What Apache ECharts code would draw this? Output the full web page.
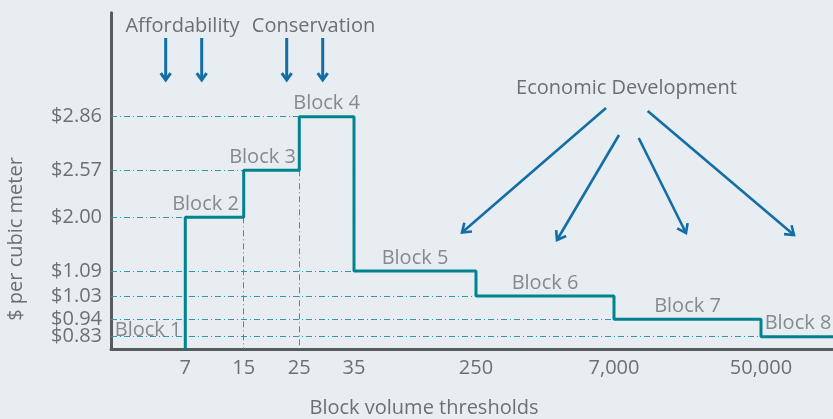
<!DOCTYPE html>
<html>
<head>
<meta charset="utf-8">
<script src="https://cdn.jsdelivr.net/npm/echarts@6/dist/echarts.min.js"></script>
<style>
  html, body { margin: 0; padding: 0; background: #e8edf1; }
  #chart { width: 833px; height: 419px; }
</style>
</head>
<body>
<div id="chart"></div>
<script>
// ---------- DATA ----------
const thresholds = [7, 15, 25, 35, 250, 7000, 50000];
const thresholdLabels = ['7', '15', '25', '35', '250', '7,000', '50,000'];
const blockNames = ['Block 1', 'Block 2', 'Block 3', 'Block 4', 'Block 5', 'Block 6', 'Block 7', 'Block 8'];
const blockPrices = [0, 2.00, 2.57, 2.86, 1.09, 1.03, 0.94, 0.83];
const priceTicks = [0.83, 0.94, 1.03, 1.09, 2.00, 2.57, 2.86];
const priceTickLabels = ['$0.83', '$0.94', '$1.03', '$1.09', '$2.00', '$2.57', '$2.86'];

// ---------- SCHEMATIC AXIS LAYOUT (the original chart is not to scale) ----------
const xSlot = [74.3, 132.7, 188.3, 243, 365, 503, 650]; // schematic position of each threshold
const xSlotMax = 722;
const ySlot = [12.3, 29.7, 53, 78, 131.7, 178.7, 232.3]; // schematic position of each price tick
const ySlotMax = 336.3;

const TEXT = '#6c7075';
const FONT = 'Open Sans';
const FS = 20;
const TEAL = '#00838e';
const DASH = '#2f98a4';
const BLUE = '#146ea6';
const AXIS = '#565b60';

function xPos(t) { return xSlot[thresholds.indexOf(t)]; }
function yPos(p) { return p === 0 ? 0 : ySlot[priceTicks.indexOf(p)]; }

// block i (i>=1) starts at thresholds[i-1]; block 0 starts at 0
function blockStart(i) { return i === 0 ? 0 : xPos(thresholds[i - 1]); }
function blockEnd(i) { return i < thresholds.length ? xPos(thresholds[i]) : xSlotMax; }

// step line: points at block starts, drawn with step:'end'
const stepData = [[xPos(thresholds[0]), yPos(blockPrices[0])]];
for (let i = 1; i < blockPrices.length; i++) stepData.push([blockStart(i), yPos(blockPrices[i])]);
stepData.push([xSlotMax, yPos(blockPrices[blockPrices.length - 1])]);

// dashed guides
const guides = [];
for (let i = 1; i < blockPrices.length; i++) {
  guides.push([{ coord: [0, yPos(blockPrices[i])] }, { coord: [blockStart(i), yPos(blockPrices[i])] }]);
  if (blockPrices[i] > blockPrices[i - 1] && blockPrices[i - 1] > 0) {
    guides.push([{ coord: [blockStart(i), yPos(blockPrices[i - 1])] }, { coord: [blockStart(i), 0] }]);
  }
}

// block labels above each block's segment
const labelShift = [0, -9, -9, 0, 0, 0, 0, 1];
const labelData = blockNames.map((n, i) => ({
  name: n,
  value: [(blockStart(i) + blockEnd(i)) / 2, yPos(blockPrices[i])],
  label: { distance: i === 0 ? 9 : 3, offset: [labelShift[i], 0] }
}));

function arrow(x1, y1, x2, y2, w, head) {
  const a = Math.atan2(y2 - y1, x2 - x1);
  const s = 0.62;
  return {
    type: 'group',
    children: [
      { type: 'line', shape: { x1, y1, x2, y2 }, style: { stroke: BLUE, lineWidth: w } },
      { type: 'polyline', shape: { points: [
        [x2 - head * Math.cos(a - s), y2 - head * Math.sin(a - s)],
        [x2, y2],
        [x2 - head * Math.cos(a + s), y2 - head * Math.sin(a + s)]
      ] }, style: { stroke: BLUE, lineWidth: w, fill: null, lineJoin: 'miter' } }
    ]
  };
}
function text(t, x, y, extra) {
  return Object.assign({
    type: 'text', x, y,
    style: { text: t, font: FS + 'px "' + FONT + '"', fill: TEXT, textAlign: 'center', textVerticalAlign: 'middle' }
  }, extra || {});
}

const chart = echarts.init(document.getElementById('chart'));
chart.setOption({
  backgroundColor: '#e8edf1',
  animation: false,
  grid: { left: 111, right: 0, top: 12.7, bottom: 70 },
  xAxis: {
    type: 'value', min: 0, max: xSlotMax,
    splitLine: { show: false },
    axisTick: { show: false },
    axisLine: { show: true, lineStyle: { color: AXIS, width: 3 } },
    axisLabel: {
      customValues: xSlot,
      hideOverlap: false,
      margin: 9,
      color: TEXT, fontFamily: FONT, fontSize: FS,
      formatter: v => thresholdLabels[xSlot.indexOf(v)] || ''
    }
  },
  yAxis: {
    type: 'value', min: 0, max: ySlotMax,
    splitLine: { show: false },
    axisTick: { show: false },
    axisLine: { show: true, lineStyle: { color: AXIS, width: 3 } },
    axisLabel: {
      customValues: [0].concat(ySlot),
      hideOverlap: false,
      margin: 9,
      color: TEXT, fontFamily: FONT, fontSize: FS,
      lineHeight: 16,
      formatter: v => (v === 0 ? ' ' : (priceTickLabels[ySlot.indexOf(v)] || ''))
    }
  },
  series: [
    {
      type: 'line', step: 'end', data: stepData, symbol: 'none', z: 5,
      lineStyle: { color: TEAL, width: 3 },
      markLine: {
        silent: true, symbol: ['none', 'none'], label: { show: false },
        lineStyle: { color: DASH, width: 1, type: [6, 3, 1, 3] },
        data: guides
      }
    },
    {
      type: 'scatter', data: labelData, symbolSize: 0, z: 6,
      label: {
        show: true, position: 'top', formatter: p => p.name,
        color: TEXT, fontFamily: FONT, fontSize: FS
      }
    }
  ],
  graphic: [
    text('Affordability', 182.5, 26),
    text('Conservation', 313.5, 26),
    text('Economic Development', 626.5, 88),
    text('$ per cubic meter', 16, 239, { rotation: Math.PI / 2 }),
    text('Block volume thresholds', 424, 408),
    arrow(165.7, 38, 165.7, 80, 3, 8.5),
    arrow(201.7, 38, 201.7, 80, 3, 8.5),
    arrow(286.7, 38, 286.7, 80, 3, 8.5),
    arrow(322.7, 38, 322.7, 80, 3, 8.5),
    arrow(606, 108, 462, 232.5, 2.6, 10),
    arrow(619, 135, 557, 240, 2.6, 10),
    arrow(638.7, 138, 686, 233, 2.6, 10),
    arrow(647.7, 111, 794, 235, 2.6, 10)
  ]
});
</script>
</body>
</html>
